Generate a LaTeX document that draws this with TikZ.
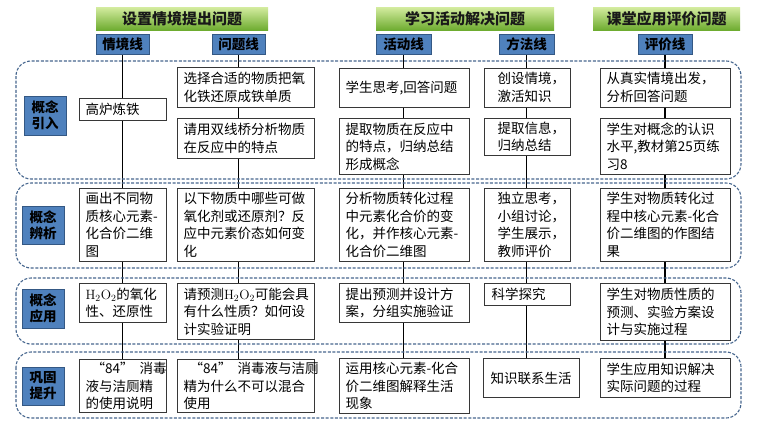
\documentclass[tikz,border=0pt]{standalone}
\usepackage{fontspec}
\newfontfamily\cjk{Noto Sans CJK SC}
\usetikzlibrary{backgrounds}
\definecolor{gtop}{RGB}{212,236,160}
\definecolor{gbot}{RGB}{110,172,48}
\definecolor{bfill}{RGB}{79,129,189}
\definecolor{bdraw}{RGB}{52,88,132}
\definecolor{dashc}{RGB}{70,102,142}
\definecolor{boxc}{RGB}{55,55,55}
\tikzset{
  greenbar/.style={top color=gtop, bottom color=gbot, draw=none, inner sep=0pt,
    font=\cjk\bfseries\fontsize{15}{17}\selectfont, text=black!90},
  bluehead/.style={fill=bfill, draw=bdraw, line width=0.8pt, inner sep=0pt,
    minimum height=20pt, font=\cjk\bfseries\fontsize{13.5}{16}\selectfont},
  sidelabel/.style={fill=bfill, draw=bdraw, line width=0.8pt, inner sep=0pt,
    minimum width=42pt, align=center, font=\cjk\bfseries\fontsize{13.5}{16}\selectfont},
  cbox/.style={draw=boxc, fill=white, line width=1.1pt, inner xsep=6pt, inner ysep=2pt,
    align=left, anchor=north west, font=\cjk\fontsize{13.5}{17.5}\selectfont},
  grp/.style={draw=dashc, line width=1.1pt, dash pattern=on 3pt off 1.6pt, rounded corners=15pt},
  vline/.style={draw=black, line width=1.3pt}
}
\begin{document}
\begin{tikzpicture}[x=1pt,y=-1pt]
\useasboundingbox (0,0) rectangle (762,426);
% groups
\draw[grp] (16,61) rectangle (741,179);
\draw[grp] (16,183) rectangle (741,268);
\draw[grp] (16,278) rectangle (741,344);
\draw[grp] (16,352) rectangle (741,418);
% green headers
\node[greenbar, minimum width=172pt, minimum height=23pt] (g1) at (182,18.5) {设置情境提出问题};
\node[greenbar, minimum width=178pt, minimum height=23pt] (g2) at (465,18.5) {学习活动解决问题};
\node[greenbar, minimum width=147pt, minimum height=23pt] (g3) at (666.5,18.5) {课堂应用评价问题};
% blue headers
\node[bluehead, minimum width=53pt] (h1) at (122.5,44) {情境线};
\node[bluehead, minimum width=53pt] (h2) at (238.5,44) {问题线};
\node[bluehead, minimum width=55pt] (h3) at (403.5,44) {活动线};
\node[bluehead, minimum width=55pt] (h4) at (526.5,44) {方法线};
\node[bluehead, minimum width=54pt] (h5) at (665,44) {评价线};
% side labels
\node[sidelabel, minimum height=39pt] (l1) at (45,115.5) {概念\\引入};
\node[sidelabel, minimum height=38pt] (l2) at (43,225) {概念\\辨析};
\node[sidelabel, minimum height=39pt] (l3) at (43,308.5) {概念\\应用};
\node[sidelabel, minimum height=38pt] (l4) at (43,386) {巩固\\提升};
% row 1
\node[cbox, text width=75pt, minimum height=22pt] (c11) at (79,98) {高炉炼铁};
\node[cbox, text width=125pt, minimum height=40pt] (c21) at (177,67) {选择合适的物质把氧\\化铁还原成铁单质};
\node[cbox, text width=125pt, minimum height=40pt] (c21b) at (177,118) {请用双线桥分析物质\\在反应中的特点};
\node[cbox, text width=118pt, minimum height=39pt] (c31) at (339,67.5) {学生思考,回答问题};
\node[cbox, text width=118pt, minimum height=56pt] (c31b) at (339,118) {提取物质在反应中\\的特点，归纳总结\\形成概念};
\node[cbox, inner xsep=13pt, text width=60pt, minimum height=39pt] (c41) at (484,67.5) {创设情境，\\激活知识};
\node[cbox, inner xsep=13pt, text width=60pt, minimum height=37pt] (c41b) at (484,118) {提取信息，\\归纳总结};
\node[cbox, text width=118pt, minimum height=39pt] (c51) at (600,67.5) {从真实情境出发，\\分析回答问题};
\node[cbox, text width=118pt, minimum height=56pt] (c51b) at (600,118) {学生对概念的认识\\水平,教材第25页练\\习8};
% row 2
\node[cbox, text width=75pt, minimum height=73pt] (c12) at (79,188) {画出不同物\\质核心元素-\\化合价二维\\图};
\node[cbox, text width=125pt, minimum height=73pt] (c22) at (177,188) {以下物质中哪些可做\\氧化剂或还原剂？反\\应中元素价态如何变\\化};
\node[cbox, text width=118pt, minimum height=73pt] (c32) at (339,188) {分析物质转化过程\\中元素化合价的变\\化，并作核心元素-\\化合价二维图};
\node[cbox, inner xsep=13pt, text width=60pt, minimum height=73pt] (c42) at (484,188) {独立思考，\\小组讨论，\\学生展示，\\教师评价};
\node[cbox, text width=118pt, minimum height=73pt] (c52) at (600,188) {学生对物质转化过\\程中核心元素-化合\\价二维图的作图结\\果};
% row 3
\node[cbox, text width=75pt, minimum height=39pt] (c13) at (79,283) {$\mathrm{H_2O_2}$的氧化\\性、还原性};
\node[cbox, text width=125pt, minimum height=56pt] (c23) at (177,283) {请预测$\mathrm{H_2O_2}$可能会具\\有什么性质？如何设\\计实验证明};
\node[cbox, text width=118pt, minimum height=39pt] (c33) at (339,283) {提出预测并设计方\\案，分组实施验证};
\node[cbox, inner xsep=7pt, text width=72pt, minimum height=22pt] (c43) at (484,283) {科学探究};
\node[cbox, text width=118pt, minimum height=57pt] (c53) at (600,283) {学生对物质性质的\\预测、实验方案设\\计与实施过程};
% row 4
\node[cbox, text width=75pt, minimum height=53pt] (c14) at (79,359) {\kern0.45em“84”\kern0.45em消毒\\液与洁厕精\\的使用说明};
\node[cbox, text width=125pt, minimum height=53pt] (c24) at (177,359) {\kern0.45em“84”\kern0.45em消毒液与洁厕\\精为什么不可以混合\\使用};
\node[cbox, text width=118pt, minimum height=55pt] (c34) at (339,358) {运用核心元素-化合\\价二维图解释生活\\现象};
\node[cbox, inner xsep=7pt, text width=82pt, minimum height=39pt] (c44) at (483,358) {知识联系生活};
\node[cbox, text width=118pt, minimum height=39pt] (c54) at (600,358) {学生应用知识解决\\实际问题的过程};
% vertical lines
\begin{pgfonlayer}{background}
\draw[vline] (h1.south) -- (h1.south |- c14.north);
\draw[vline] (h2.south) -- (h2.south |- c24.north);
\draw[vline] (h3.south) -- (h3.south |- c34.north);
\draw[vline] (h4.south) -- (h4.south |- c44.north);
\draw[vline] (h5.south) -- (h5.south |- c54.north);
\end{pgfonlayer}
\end{tikzpicture}
\end{document}
